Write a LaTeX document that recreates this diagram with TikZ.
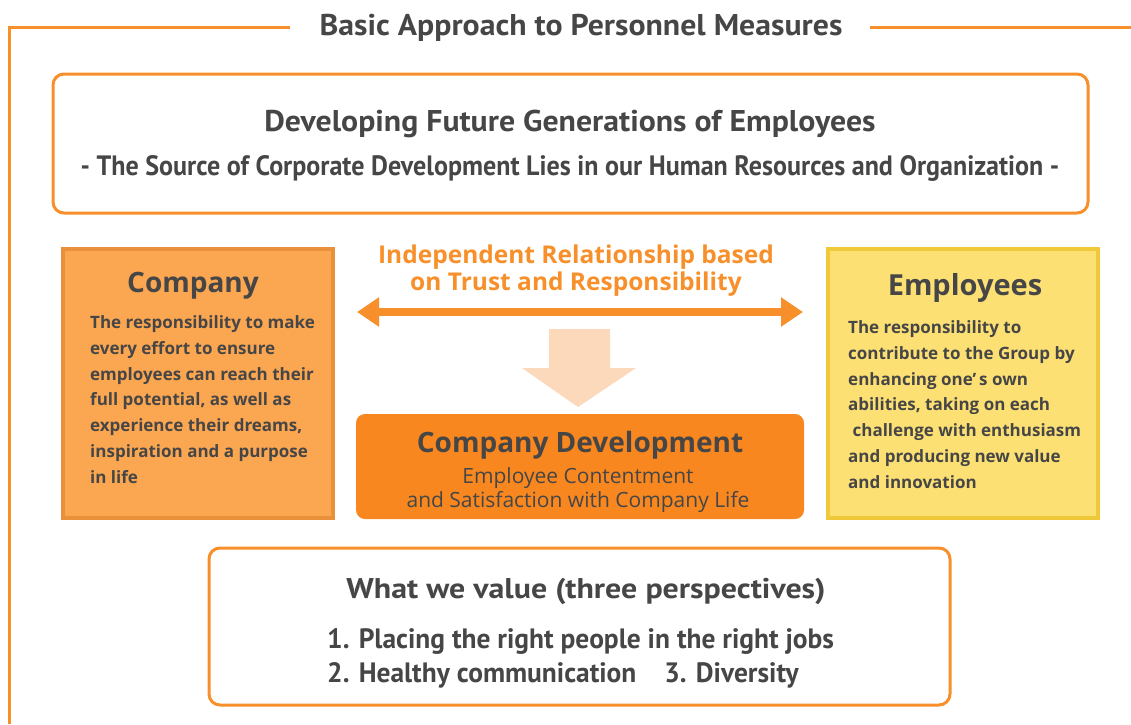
\documentclass[tikz,border=0pt]{standalone}
\usepackage{fontspec}
\setmainfont{PT Sans}
\newfontfamily\titlef{PT Sans}[FakeStretch=1.06]
\newfontfamily\devf{PT Sans}[FakeStretch=1.06]
\newfontfamily\srcf{PT Sans}[FakeStretch=0.93]
\newfontfamily\wvf{PT Sans}[FakeStretch=1.12]
\newfontfamily\itemf{PT Sans}[FakeStretch=0.98]
\newfontfamily\bodyf{Open Sans}
\usetikzlibrary{arrows.meta}
\definecolor{orangeline}{HTML}{F7902A}
\definecolor{txtgray}{HTML}{464646}
\definecolor{compfill}{HTML}{FBA650}
\definecolor{compedge}{HTML}{E8913A}
\definecolor{empfill}{HTML}{FCE073}
\definecolor{empedge}{HTML}{EFC93A}
\definecolor{peach}{HTML}{FDD9BC}
\definecolor{devfill}{HTML}{F8871F}
\tikzset{
  frameline/.style={draw=orangeline,line width=3pt},
  whitebox/.style={draw=orangeline,line width=3pt,fill=white,rounded corners=11pt},
  txt/.style={text=txtgray,inner sep=0pt},
  bodytxt/.style={txt,font=\bodyf\bfseries\fontsize{17}{25.9}\selectfont,align=left,anchor=north west},
}
\begin{document}
\begin{tikzpicture}[x=1pt,y=-1pt]
\useasboundingbox (0,0) rectangle (1131,724);
% outer frame
\coordinate (fl) at (9,27);
\coordinate (fb) at (9,724);
\coordinate (fa) at (290,27);
\coordinate (fc) at (870,27);
\coordinate (fr) at (1131,27);
\draw[frameline] (fb) -- (fl) -- (fa);
\draw[frameline] (fc) -- (fr);
\node[txt,anchor=base,font=\titlef\bfseries\fontsize{30}{30}\selectfont] (title) at (581,35) {Basic Approach to Personnel Measures};
% top box
\draw[whitebox] (53,74) rectangle (1088,213);
\node[txt,anchor=base,font=\devf\bfseries\fontsize{30}{30}\selectfont] (dev) at (570,131) {Developing Future Generations of Employees};
\node[txt,anchor=base,font=\srcf\bfseries\fontsize{28}{28}\selectfont] (src) at (570,175) {- The Source of Corporate Development Lies in our Human Resources and Organization -};
% company box
\draw[fill=compfill,draw=compedge,line width=4pt] (63,249) rectangle (333,518);
\node[txt,anchor=base,font=\bodyf\bfseries\fontsize{28}{28}\selectfont] (comp) at (193,292) {Company};
\node[bodytxt] (comptxt) at (90,309.9) {\strut The responsibility to make\\every effort to ensure\\employees can reach their\\full potential, as well as\\experience their dreams,\\inspiration and a purpose\\in life};
% employees box
\draw[fill=empfill,draw=empedge,line width=4pt] (828,249) rectangle (1098,518);
\node[txt,anchor=base,font=\bodyf\bfseries\fontsize{29}{29}\selectfont] (emp) at (965,295) {Employees};
\node[bodytxt] (emptxt) at (848,314.9) {\strut The responsibility to\\contribute to the Group by\\enhancing one’\,s own\\abilities, taking on each\\\ challenge with enthusiasm\\and producing new value\\and innovation};
% relationship
\node[text=orangeline,inner sep=0pt,anchor=north,font=\bodyf\bfseries\fontsize{24.5}{27}\selectfont,align=center] (rel) at (576,244.1) {\strut Independent Relationship based\\on Trust and Responsibility};
\coordinate (al) at (357,312);
\coordinate (ar) at (803,312);
\draw[draw=orangeline,line width=8pt,{Triangle[width=28pt,length=22pt]}-{Triangle[width=28pt,length=22pt]}] (al) -- (ar);
% down arrow
\fill[peach] (549,329) -- (610,329) -- (610,368) -- (636,368) -- (578,407) -- (522,368) -- (549,368) -- cycle;
% company development
\draw[fill=devfill,draw=none,rounded corners=9pt] (356,414) rectangle (804,519);
\node[txt,anchor=base,font=\bodyf\bfseries\fontsize{28}{28}\selectfont] (cd) at (580,452) {Company Development};
\node[txt,anchor=north,font=\bodyf\fontsize{21}{22}\selectfont,align=center] (cdsub) at (578,467.6) {\strut Employee Contentment\\and Satisfaction with Company Life};
% bottom box
\draw[whitebox] (209,548) rectangle (950,705);
\node[txt,anchor=base,font=\wvf\bfseries\fontsize{28.5}{28.5}\selectfont] (wv) at (586,598) {What we value (three perspectives)};
\node[txt,anchor=north west,font=\itemf\bfseries\fontsize{28}{34}\selectfont,align=left] (items) at (327,624.2) {\strut 1. Placing the right people in the right jobs\\2. Healthy communication\hspace{28pt}3. Diversity};
\end{tikzpicture}
\end{document}
